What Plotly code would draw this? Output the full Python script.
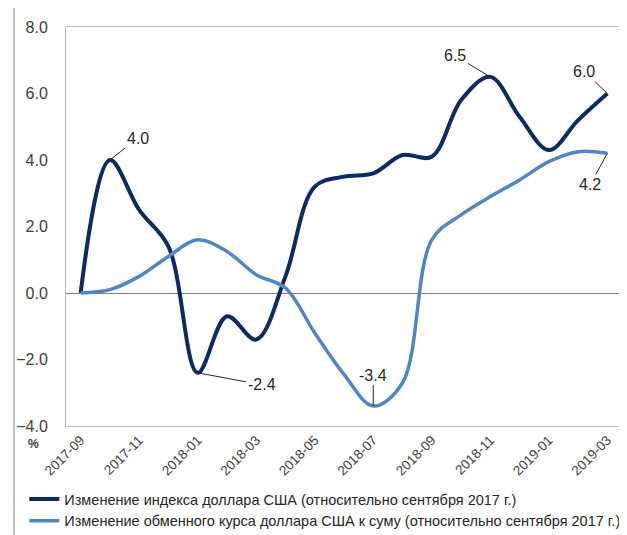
import plotly.graph_objects as go

# Data -------------------------------------------------------------------------------
months = ["2017-09", "2017-10", "2017-11", "2017-12", "2018-01", "2018-02", "2018-03",
          "2018-04", "2018-05", "2018-06", "2018-07", "2018-08", "2018-09", "2018-10",
          "2018-11", "2018-12", "2019-01", "2019-02", "2019-03"]
usd_index = [0.0, 4.0, 2.5, 1.4, -2.4, -0.7, -1.4, 0.5, 3.2, 3.5, 3.6, 4.15, 4.1,
             5.8, 6.5, 5.3, 4.3, 5.2, 6.0]
usd_uzs = [0.0, 0.1, 0.5, 1.1, 1.6, 1.25, 0.55, 0.15, -1.2, -2.45, -3.4, -2.7, 1.6,
           2.35, 2.9, 3.4, 3.95, 4.25, 4.2]
tick_months = months[::2]

name_index = "Изменение индекса доллара США (относительно сентября 2017 г.)"
name_uzs = "Изменение обменного курса доллара США к суму (относительно сентября 2017 г.)"

DARK = "#0b2a66"
LIGHT = "#4f86c6"

# Figure -----------------------------------------------------------------------------
fig = go.Figure()
fig.add_trace(go.Scatter(x=months, y=usd_index, name=name_index, mode="lines",
                         line=dict(color=DARK, width=4, shape="spline", smoothing=1.0)))
fig.add_trace(go.Scatter(x=months, y=usd_uzs, name=name_uzs, mode="lines",
                         line=dict(color=LIGHT, width=3.5, shape="spline", smoothing=1.0)))

# data labels with leader lines: (series, index, ax, ay)
labels = [(usd_index, 1, 28, -22), (usd_index, 4, 64, 12), (usd_uzs, 10, 0, -31),
          (usd_index, 14, -35, -21), (usd_index, 18, -23, -22), (usd_uzs, 18, -17, 31)]
for series, i, ax, ay in labels:
    fig.add_annotation(x=months[i], y=series[i], text=f"{series[i]:.1f}",
                       showarrow=True, arrowhead=0, arrowwidth=1, arrowcolor="#262626",
                       ax=ax, ay=ay, font=dict(size=16, color="#262626"))

fig.add_annotation(x=-0.059, y=-0.045, xref="paper", yref="paper", text="<b>%</b>",
                   xanchor="center", yanchor="middle",
                   showarrow=False, font=dict(size=12, color="#404040"))

# left edge frame line
fig.add_shape(type="line", xref="paper", yref="paper", x0=-0.0935, x1=-0.0935,
              y0=1.07, y1=-0.28, line=dict(color="#bfbfbf", width=2))

fig.update_xaxes(type="category", range=[-0.5, len(months) - 0.5], automargin=False,
                 tickvals=tick_months, ticktext=tick_months, tickangle=-45,
                 showline=True, mirror=True, linecolor="#bfbfbf", linewidth=1,
                 showgrid=False, ticks="", tickfont=dict(size=13.5, color="#404040",
                                                       family="Liberation Sans"))
fig.update_yaxes(range=[-4, 8], dtick=2, tickformat=".1f", showgrid=False, automargin=False,
                 zeroline=True, zerolinecolor="#808080", zerolinewidth=1,
                 showline=True, mirror=True, linecolor="#bfbfbf", linewidth=1,
                 ticks="", ticklabelstandoff=14,
                 tickfont=dict(size=16, color="#404040", family="Liberation Sans"))

# page body has an 8px margin, so the figure is 8px smaller than the window
fig.update_layout(
    width=619, height=527,
    margin=dict(l=58, r=5, t=19, b=109, autoexpand=False),
    plot_bgcolor="white", paper_bgcolor="white",
    font=dict(family="Liberation Sans", color="#262626"),
    showlegend=True,
    legend=dict(x=-0.075, y=-0.143, xanchor="left", yanchor="top",
                orientation="v", tracegroupgap=0, itemwidth=30,
                font=dict(size=14.5, color="#262626")),
)

fig.write_html("out.html")
